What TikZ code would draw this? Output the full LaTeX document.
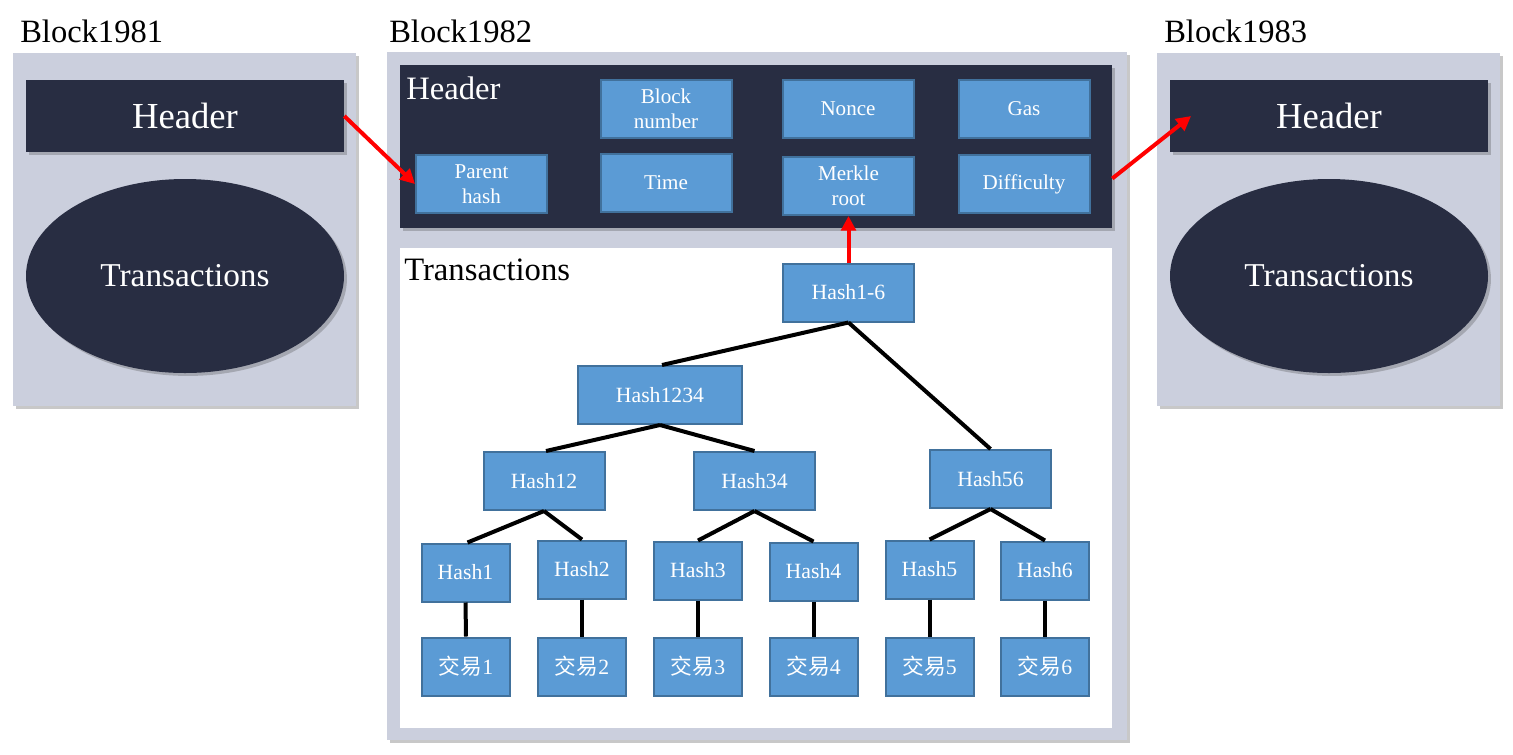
\documentclass[tikz,border=0pt]{standalone}
\usepackage{fontspec}
\setmainfont{Liberation Serif}
\newfontfamily\cjk{Noto Sans CJK SC}
\usetikzlibrary{shadows,arrows.meta,shapes.geometric}
\definecolor{panel}{RGB}{203,207,221}
\definecolor{dark}{RGB}{40,45,66}
\definecolor{blu}{RGB}{91,155,213}
\definecolor{bluedge}{RGB}{65,113,156}
\begin{document}
\begin{tikzpicture}[x=0.75pt,y=-0.75pt,
  shd/.style={drop shadow={shadow xshift=2.2pt,shadow yshift=-2.2pt,opacity=0.3,fill=black!70}},
  panelbox/.style={fill=panel,shd,inner sep=0pt},
  darkbox/.style={fill=dark,shd,inner sep=0pt,text=white},
  whitebox/.style={fill=white,inner sep=0pt},
  blocklabel/.style={anchor=base west,inner sep=0pt,font=\fontsize{24.4}{28}\selectfont},
  bigtext/.style={text=white,font=\fontsize{27.5}{32}\selectfont},
  elltext/.style={text=white,font=\fontsize{25}{30}\selectfont},
  areatitle/.style={anchor=base west,inner sep=0pt,font=\fontsize{24.5}{28}\selectfont},
  field/.style={fill=blu,draw=bluedge,line width=1.5pt,inner sep=0pt,text=white,align=center,
     font=\fontsize{15.8}{18.5}\selectfont,minimum width=131*0.75pt,minimum height=58*0.75pt},
  hnode/.style={fill=blu,draw=bluedge,line width=1.5pt,inner sep=0pt,text=white,align=center,
     font=\fontsize{16.3}{19}\selectfont,minimum height=58*0.75pt},
  leaf/.style={hnode,minimum width=88*0.75pt},
  mid/.style={hnode,minimum width=121*0.75pt},
  tline/.style={line width=3pt,black},
  redarrow/.style={line width=3pt,red,-{Triangle[length=11pt,width=11pt]}}
]
\useasboundingbox[fill=white] (0,0) rectangle (1513,754);

% Block 1981
\node[blocklabel] (l1981) at (20,42) {Block1981};
\node[panelbox,minimum width=343*0.75pt,minimum height=353*0.75pt] (p1) at (184.5,229.5) {};
\node[darkbox,bigtext,minimum width=318*0.75pt,minimum height=72*0.75pt] (h1) at (185,116) {Header};
\node[darkbox,elltext,ellipse,minimum width=318*0.75pt,minimum height=194*0.75pt] (t1) at (185,276) {\raisebox{-2pt}{Transactions}};

% Block 1983
\node[blocklabel] (l1983) at (1164,42) {Block1983};
\node[panelbox,minimum width=343*0.75pt,minimum height=353*0.75pt] (p3) at (1328.5,229.5) {};
\node[darkbox,bigtext,minimum width=318*0.75pt,minimum height=72*0.75pt] (h3) at (1329,116) {Header};
\node[darkbox,elltext,ellipse,minimum width=318*0.75pt,minimum height=194*0.75pt] (t3) at (1329,276) {\raisebox{-2pt}{Transactions}};

% Block 1982
\node[blocklabel] (l1982) at (389,42) {Block1982};
\node[panelbox,minimum width=740*0.75pt,minimum height=688*0.75pt] (p2) at (757,396) {};
\node[darkbox,minimum width=712*0.75pt,minimum height=163*0.75pt] (h2) at (756,146.5) {};
\node[whitebox,minimum width=712*0.75pt,minimum height=480*0.75pt] (t2) at (756,488) {};
\node[areatitle,text=white] (h2t) at (406,99) {Header};
\node[areatitle] (t2t) at (404,280) {Transactions};

% header fields
\node[field] (bn) at (666,109) {Block\\number};
\node[field] (nonce) at (848,109) {Nonce};
\node[field] (gas) at (1024,109) {Gas};
\node[field] (ph) at (481.5,184) {Parent\\hash};
\node[field] (time) at (666,183) {Time};
\node[field] (mr) at (848.5,186) {Merkle\\root};
\node[field] (diff) at (1024,184) {Difficulty};

% merkle tree
\node[hnode,minimum width=131*0.75pt] (h16) at (848.5,292.5) {Hash1-6};
\node[hnode,minimum width=164*0.75pt] (h1234) at (660,395) {Hash1234};
\node[mid] (h12) at (544,481) {Hash12};
\node[mid] (h34) at (754.5,481) {Hash34};
\node[mid] (h56) at (990.5,479) {Hash56};
\node[leaf] (x1) at (465.5,572.5) {Hash1};
\node[leaf] (x2) at (582,569.5) {Hash2};
\node[leaf] (x3) at (698,570.5) {Hash3};
\node[leaf] (x4) at (813.5,571.5) {Hash4};
\node[leaf] (x5) at (929.5,569.5) {Hash5};
\node[leaf] (x6) at (1045,570.5) {Hash6};
\node[leaf] (j1) at (466,666.5) {{\cjk 交易}1};
\node[leaf] (j2) at (582,666.5) {{\cjk 交易}2};
\node[leaf] (j3) at (698,666.5) {{\cjk 交易}3};
\node[leaf] (j4) at (813.5,666.5) {{\cjk 交易}4};
\node[leaf] (j5) at (929.5,666.5) {{\cjk 交易}5};
\node[leaf] (j6) at (1045,666.5) {{\cjk 交易}6};

\draw[tline] (h16.south) -- ([xshift=1.5pt]h1234.north);
\draw[tline] (h16.south) -- (h56.north);
\draw[tline] (h1234.south) -- ([xshift=1.5pt]h12.north);
\draw[tline] (h1234.south) -- (h34.north);
\draw[tline] (h12.south) -- ([xshift=1.5pt]x1.north);
\draw[tline] (h12.south) -- (x2.north);
\draw[tline] (h34.south) -- (x3.north);
\draw[tline] (h34.south) -- (x4.north);
\draw[tline] (h56.south) -- (x5.north);
\draw[tline] (h56.south) -- (x6.north);
\foreach \i in {1,...,6} {\draw[tline] (x\i.south) -- (j\i.north);}

% red arrows
\draw[redarrow] (h1.east) -- (ph.west);
\draw[redarrow] ([yshift=-24pt]h2.east) -- ([xshift=16pt]h3.west);
\draw[redarrow] (h16.north) -- (mr.south);
\end{tikzpicture}
\end{document}
